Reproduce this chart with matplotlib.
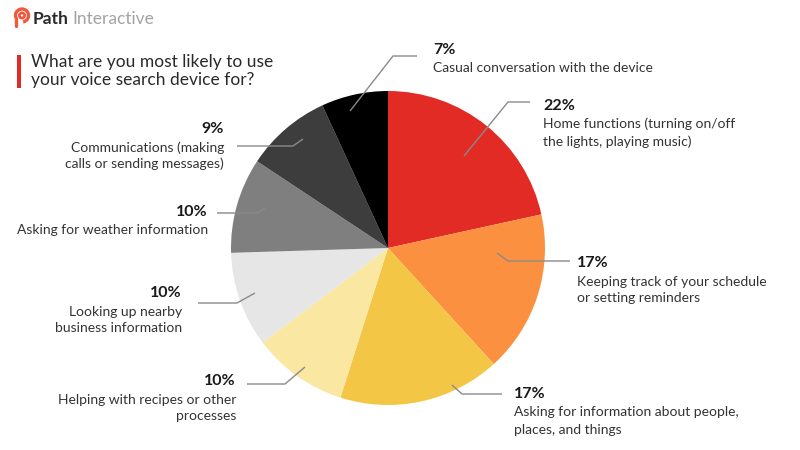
import matplotlib
matplotlib.use("Agg")
import matplotlib.pyplot as plt
from matplotlib.patches import Circle, Rectangle, Arc

plt.rcParams['font.family'] = ['Lato', 'DejaVu Sans']

# ---- data ----
categories = [
    "Home functions (turning on/off\nthe lights, playing music)",
    "Keeping track of your schedule\nor setting reminders",
    "Asking for information about people,\nplaces, and things",
    "Helping with recipes or other\nprocesses",
    "Looking up nearby\nbusiness information",
    "Asking for weather information",
    "Communications (making\ncalls or sending messages)",
    "Casual conversation with the device",
]
values = [22, 17, 17, 10, 10, 10, 9, 7]
pct_labels = ["22%", "17%", "17%", "10%", "10%", "10%", "9%", "7%"]
colors = ["#E32B26", "#FB9140", "#F3C646", "#F9E7A2",
          "#E6E6E6", "#7F7F7F", "#3D3D3D", "#000000"]

# ---- layout (pixels, origin top-left) ----
# (line start, elbow, line end, text x, pct baseline y, align)
layout = [
    ((464, 156), (508, 102), (530, 102), 543, 110, 'left'),
    ((497, 253), (508, 261), (570, 261), 577, 267, 'left'),
    ((452, 385), (462, 394), (502, 394), 514, 398, 'left'),
    ((305, 367), (285, 384), (247, 384), 236, 385, 'right'),
    ((255, 293), (237, 303), (198, 303), 182, 297, 'right'),
    ((265, 208), (258, 213), (217, 213), 208, 216, 'right'),
    ((303, 139), (293, 146), (237, 146), 224, 133, 'right'),
    ((350, 111), (393, 56), (417, 56), 433, 54, 'left'),
]

W, H = 800, 450
fig = plt.figure(figsize=(8, 4.5), dpi=100)
fig.patch.set_facecolor('white')

cx, cy, r = 388, 248, 157
ax = fig.add_axes([(cx - r) / W, (H - cy - r) / H, 2 * r / W, 2 * r / H])
ax.pie(values, colors=colors, startangle=90, counterclock=False,
       radius=1.0, wedgeprops=dict(linewidth=0))
ax.set_xlim(-1, 1)
ax.set_ylim(-1, 1)
ax.set_aspect('auto')
ax.axis('off')

ov = fig.add_axes([0, 0, 1, 1], zorder=5)
ov.set_xlim(0, W)
ov.set_ylim(H, 0)
ov.axis('off')

line_c = "#8a8a8a"
for cat, pct, (p0, p1, p2, tx, ty, ha) in zip(categories, pct_labels, layout):
    ov.plot([p0[0], p1[0], p2[0]], [p0[1], p1[1], p2[1]], color=line_c,
            lw=1.0, solid_capstyle='butt')
    ov.text(tx, ty, pct, ha=ha, va='baseline', fontsize=11.5,
            fontweight='bold', color="#1a1a1a")
    for i, ln in enumerate(cat.split("\n")):
        ov.text(tx, ty + 18.5 + 17 * i, ln, ha=ha, va='baseline',
                fontsize=10, color="#333333")

# ---- title ----
ov.add_patch(Rectangle((17, 55), 3.5, 33, color="#E32B26", lw=0))
ov.text(31, 66.5, "What are you most likely to use", fontsize=12.5,
        color="#2a2a2a", va='baseline', ha='left')
ov.text(31, 85, "your voice search device for?", fontsize=12.5,
        color="#2a2a2a", va='baseline', ha='left')

# ---- logo ----
logo_c = "#F05A3C"
ov.add_patch(Arc((22, 15.5), 13, 13, theta1=-200, theta2=80, color=logo_c, lw=2.4))
ov.plot([15.9, 15.9], [17.5, 25.5], color=logo_c, lw=2.4, solid_capstyle='round')
ov.add_patch(Circle((22, 15.5), 2.6, facecolor='none', edgecolor=logo_c, lw=2.0))
ov.text(33, 24.5, "Path", fontsize=12.5, fontweight='bold', color="#2b2b2b",
        va='baseline', ha='left')
ov.text(72.5, 24.5, "Interactive", fontsize=12.5, fontweight='normal', color="#a3a3a3",
        va='baseline', ha='left')

fig.savefig("out.png", dpi=100)
